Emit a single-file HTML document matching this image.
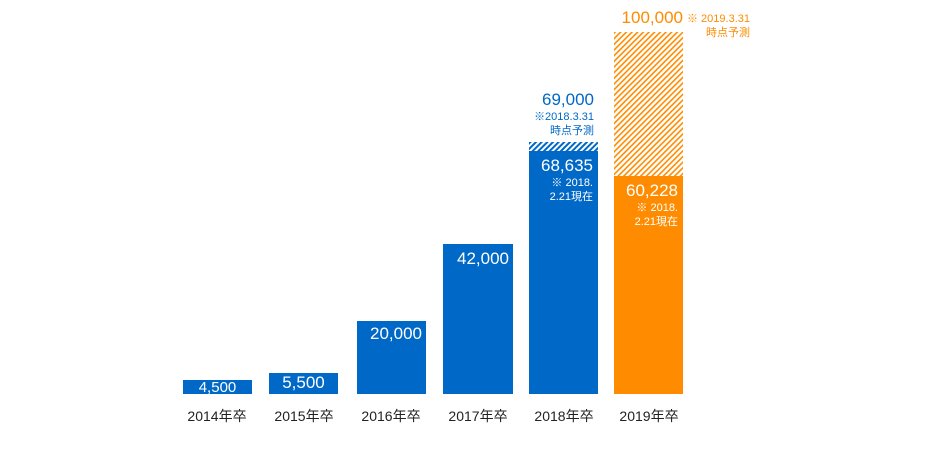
<!DOCTYPE html>
<html><head><meta charset="utf-8"><style>
body{margin:0;width:940px;height:450px;background:#fff;position:relative;overflow:hidden;font-family:"Liberation Sans","Noto Sans CJK JP",sans-serif}
.b{position:absolute;background:#0068c6;color:#fff;text-align:right;box-sizing:border-box}
.n{font-size:17px;line-height:20px}
.s{font-size:11px;line-height:14px}
.l{position:absolute;top:406px;width:90px;text-align:center;font-size:14px;color:#222}
.h{position:absolute}
.t{position:absolute;text-align:right}
</style></head><body>
<div class="b" style="left:183px;top:380px;width:69px;height:14px;text-align:center"><div class="n" style="line-height:16px;font-size:15px">4,500</div></div>
<div class="b" style="left:269px;top:373px;width:69px;height:21px;text-align:center"><div class="n">5,500</div></div>
<div class="b" style="left:357px;top:321px;width:69px;height:73px;padding:3px 4px 0 0"><div class="n">20,000</div></div>
<div class="b" style="left:443px;top:244px;width:70px;height:150px;padding:5px 4px 0 0"><div class="n">42,000</div></div>
<svg class="h" style="left:529px;top:142px" width="69" height="9"><defs><pattern id="pb" width="4" height="4" patternUnits="userSpaceOnUse" patternTransform="rotate(45)"><rect width="2" height="4" fill="#0068c6"/></pattern></defs><rect width="69" height="9" fill="url(#pb)"/></svg>
<div class="b" style="left:529px;top:151px;width:69px;height:243px;padding:5px 5px 0 0"><div class="n">68,635</div><div class="s">※ 2018.<br>2.21現在</div></div>
<svg class="h" style="left:614px;top:32px" width="69" height="144"><defs><pattern id="po" width="4" height="4" patternUnits="userSpaceOnUse" patternTransform="rotate(45)"><rect width="1.6" height="4" fill="#ff8c00"/></pattern></defs><rect width="69" height="144" fill="url(#po)"/></svg>
<div class="b" style="left:614px;top:176px;width:69px;height:218px;background:#ff8c00;padding:5px 5px 0 0"><div class="n">60,228</div><div class="s">※ 2018.<br>2.21現在</div></div>
<div class="t" style="left:500px;top:90px;width:94px;color:#0068c6"><div class="n">69,000</div><div class="s">※2018.3.31<br>時点予測</div></div>
<div class="t" style="left:560px;top:8px;width:123px;color:#ff8c00"><div class="n">100,000</div></div>
<div class="t" style="left:680px;top:12px;width:70px;color:#ff8c00"><div class="s">※ 2019.3.31<br>時点予測</div></div>
<div class="l" style="left:172px">2014年卒</div>
<div class="l" style="left:259px">2015年卒</div>
<div class="l" style="left:346px">2016年卒</div>
<div class="l" style="left:433px">2017年卒</div>
<div class="l" style="left:519px">2018年卒</div>
<div class="l" style="left:604px">2019年卒</div>
</body></html>
